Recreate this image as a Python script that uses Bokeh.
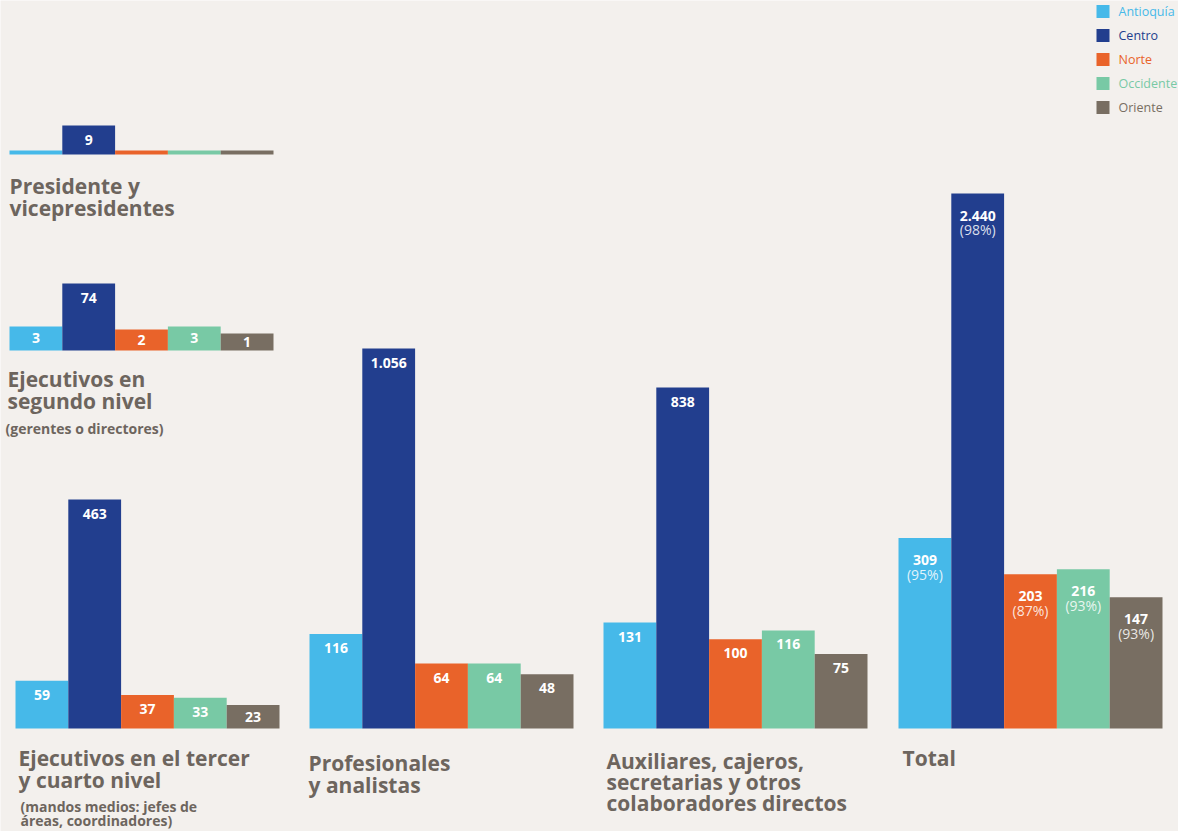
import numpy as np
from bokeh.plotting import figure
from bokeh.models import ColumnDataSource, Range1d
from bokeh.core.properties import value
from bokeh.embed import file_html
from bokeh.resources import INLINE

# ---------------- data ----------------
regions = ["Antioquía", "Centro", "Norte", "Occidente", "Oriente"]
colors = ["#46b9e9", "#223e8e", "#e9632a", "#78c9a5", "#786e62"]

presidentes = [0, 9, 0, 0, 0]
segundo_nivel = [3, 74, 2, 3, 1]
tercer_cuarto = [59, 463, 37, 33, 23]
profesionales = [116, 1056, 64, 64, 48]
auxiliares = [131, 838, 100, 116, 75]
total = [309, 2440, 203, 216, 147]
total_pct = ["(95%)", "(98%)", "(87%)", "(93%)", "(93%)"]

title_presidentes = ["Presidente y", "vicepresidentes"]
title_segundo = ["Ejecutivos en", "segundo nivel"]
sub_segundo = ["(gerentes o directores)"]
title_tercer = ["Ejecutivos en el tercer", "y cuarto nivel"]
sub_tercer = ["(mandos medios: jefes de", "áreas, coordinadores)"]
title_prof = ["Profesionales", "y analistas"]
title_aux = ["Auxiliares, cajeros,", "secretarias y otros", "colaboradores directos"]
title_total = ["Total"]

# ---------------- layout (page pixel space) ----------------
BG = "#f3f0ed"
TITLE_C = "#6d655e"
FONT = value("Open Sans")

panels = [
    dict(v=presidentes, pct=None, t=title_presidentes, s=[], x0=9, base=154, mx=29, ex=1.0,
         tx=9, ty=185, lh=22, sx=0, sy=0),
    dict(v=segundo_nivel, pct=None, t=title_segundo, s=sub_segundo, x0=9, base=350, mx=67, ex=0.32,
         tx=7, ty=378, lh=22, sx=5, sy=428),
    dict(v=tercer_cuarto, pct=None, t=title_tercer, s=sub_tercer, x0=15, base=728, mx=229, ex=0.76,
         tx=18, ty=757, lh=22, sx=20, sy=806),
    dict(v=profesionales, pct=None, t=title_prof, s=[], x0=309, base=728, mx=380, ex=0.63,
         tx=308, ty=762, lh=22, sx=0, sy=0),
    dict(v=auxiliares, pct=None, t=title_aux, s=[], x0=603, base=728, mx=341, ex=0.63,
         tx=606, ty=760, lh=21, sx=0, sy=0),
    dict(v=total, pct=total_pct, t=title_total, s=[], x0=898, base=728, mx=535, ex=0.5,
         tx=902, ty=757, lh=22, sx=0, sy=0),
]
BAR_W = 52.8

W, H = 1178, 831
p = figure(width=W, height=H, x_range=Range1d(0, W), y_range=Range1d(H, 0),
           output_backend="svg", toolbar_location=None,
           x_axis_location=None, y_axis_location=None,
           background_fill_color=BG, border_fill_color=BG,
           min_border=0, outline_line_color=None)
p.grid.visible = False

bar = dict(left=[], right=[], top=[], bottom=[], color=[])
lab = dict(x=[], y=[], text=[])
pctl = dict(x=[], y=[], text=[])
tl = dict(x=[], y=[], text=[])
sl = dict(x=[], y=[], text=[])

for pn in panels:
    vals = np.array(pn["v"], dtype=float)
    vmax = vals.max()
    for i, v in enumerate(vals):
        h = pn["mx"] * (v / vmax) ** pn["ex"] if v > 0 else 0.0
        h = max(h, 4.0)
        left = pn["x0"] + i * BAR_W
        top = pn["base"] - h
        bar["left"].append(left)
        bar["right"].append(left + BAR_W)
        bar["bottom"].append(pn["base"])
        bar["top"].append(top)
        bar["color"].append(colors[i])
        if v > 0:
            cx = left + BAR_W / 2
            txt = f"{int(v):,}".replace(",", ".")
            if pn["pct"] is not None:
                lab["x"].append(cx); lab["y"].append(top + 22); lab["text"].append(txt)
                pctl["x"].append(cx); pctl["y"].append(top + 36); pctl["text"].append(pn["pct"][i])
            else:
                lab["x"].append(cx); lab["y"].append(top + min(14, h / 2)); lab["text"].append(txt)
    for j, line in enumerate(pn["t"]):
        tl["x"].append(pn["tx"]); tl["y"].append(pn["ty"] + j * pn["lh"]); tl["text"].append(line)
    for j, line in enumerate(pn["s"]):
        sl["x"].append(pn["sx"]); sl["y"].append(pn["sy"] + j * 14); sl["text"].append(line)

p.quad(source=ColumnDataSource(bar), left="left", right="right", top="top", bottom="bottom",
       fill_color="color", line_color=None)
p.text(source=ColumnDataSource(lab), x="x", y="y", text="text", text_color="white",
       text_font=FONT, text_font_style="bold", text_font_size="14px",
       text_align="center", text_baseline="middle")
p.text(source=ColumnDataSource(pctl), x="x", y="y", text="text", text_color="white", text_alpha=0.85,
       text_font=FONT, text_font_size="14px", text_align="center", text_baseline="middle")
p.text(source=ColumnDataSource(tl), x="x", y="y", text="text", text_color=TITLE_C,
       text_font=FONT, text_font_style="bold", text_font_size="21px",
       text_align="left", text_baseline="middle")
p.text(source=ColumnDataSource(sl), x="x", y="y", text="text", text_color=TITLE_C,
       text_font=FONT, text_font_style="bold", text_font_size="14px",
       text_align="left", text_baseline="middle")

# legend
leg_y = [11 + 24 * i for i in range(len(regions))]
p.quad(left=[1096] * 5, right=[1109] * 5, top=[y - 6.5 for y in leg_y], bottom=[y + 6.5 for y in leg_y],
       fill_color=colors, line_color=None)
p.text(x=[1118] * 5, y=leg_y, text=regions, text_color=colors, text_font=FONT,
       text_font_size="12.5px", text_align="left", text_baseline="middle")

open("out.html", "w").write(file_html(p, INLINE))
